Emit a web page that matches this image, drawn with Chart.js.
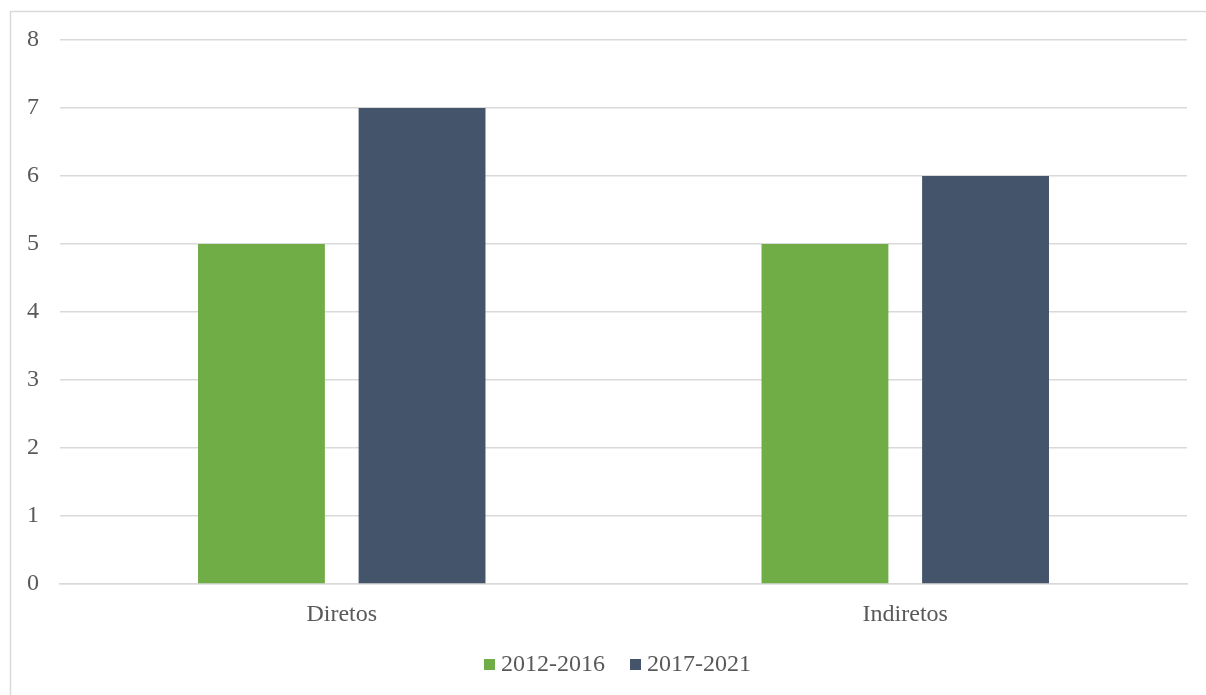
<!DOCTYPE html>
<html>
<head>
<meta charset="utf-8">
<script src="https://cdn.jsdelivr.net/npm/chart.js@4/dist/chart.umd.min.js"></script>
<style>
  html, body { margin: 0; padding: 0; background: #fff; }
  #wrap { width: 1206px; height: 695px; position: relative; }
</style>
</head>
<body>
<div id="wrap"><canvas id="c" width="1206" height="695"></canvas></div>
<script>
const categories = ["Diretos", "Indiretos"];
const seriesNames = ["2012-2016", "2017-2021"];
const series2012 = [5, 5];
const series2017 = [7, 6];
const yTicks = [0, 1, 2, 3, 4, 5, 6, 7, 8];

const FONT = "'Liberation Serif', 'Times New Roman', serif";
const TEXT = "#595959";
const GRID = "#d9d9d9";
const COLORS = ["#70ad47", "#44546a"];

const frame = {
  id: "frame",
  beforeDraw(chart) {
    const ctx = chart.ctx;
    ctx.save();
    ctx.fillStyle = "#fff";
    ctx.fillRect(0, 0, chart.width, chart.height);
    ctx.strokeStyle = GRID;
    ctx.lineWidth = 1.5;
    ctx.beginPath();
    ctx.moveTo(10.5, chart.height);
    ctx.lineTo(10.5, 11.5);
    ctx.lineTo(chart.width, 11.5);
    ctx.stroke();
    ctx.restore();
  }
};

const legendPlugin = {
  id: "customLegend",
  afterDraw(chart) {
    const ctx = chart.ctx;
    ctx.save();
    ctx.font = "24px " + FONT;
    ctx.textBaseline = "middle";
    const box = 11, gap = 6, itemGap = 25;
    const items = chart.data.datasets.map(d => ({ label: d.label, color: d.backgroundColor, w: ctx.measureText(d.label).width }));
    let total = 0;
    items.forEach((it, i) => { total += box + gap + it.w + (i < items.length - 1 ? itemGap : 0); });
    const ca = chart.chartArea;
    let x = (ca.left + ca.right) / 2 - total / 2 - 6;
    const y = 665;
    items.forEach(it => {
      ctx.fillStyle = it.color;
      ctx.fillRect(x, y - 6, box, box);
      x += box + gap;
      ctx.fillStyle = TEXT;
      ctx.textAlign = "left";
      ctx.fillText(it.label, x, y);
      x += it.w + itemGap;
    });
    ctx.restore();
  }
};

new Chart(document.getElementById("c"), {
  type: "bar",
  data: {
    labels: categories,
    datasets: [
      { label: seriesNames[0], data: series2012, backgroundColor: COLORS[0] },
      { label: seriesNames[1], data: series2017, backgroundColor: COLORS[1] }
    ]
  },
  options: {
    responsive: false,
    animation: false,
    devicePixelRatio: 1,
    layout: { padding: { left: 10, top: 40, right: 19, bottom: 71 } },
    datasets: { bar: { categoryPercentage: 0.57, barPercentage: 0.79 } },
    plugins: { legend: { display: false }, tooltip: { enabled: false } },
    scales: {
      x: {
        grid: { display: false, drawTicks: false },
        border: { display: true, color: GRID, width: 1.5 },
        ticks: { color: TEXT, font: { family: FONT, size: 24 }, padding: 16 },
        afterFit(s) { s.height = 40; }
      },
      y: {
        min: 0, max: 8,
        afterBuildTicks(s) { s.ticks = yTicks.map(v => ({ value: v })); },
        grid: { color: GRID, lineWidth: 1.5, drawTicks: false },
        border: { display: false },
        ticks: { color: TEXT, font: { family: FONT, size: 24 }, padding: 21 },
        afterFit(s) { s.width = 50; }
      }
    }
  },
  plugins: [frame, legendPlugin]
});
</script>
</body>
</html>
